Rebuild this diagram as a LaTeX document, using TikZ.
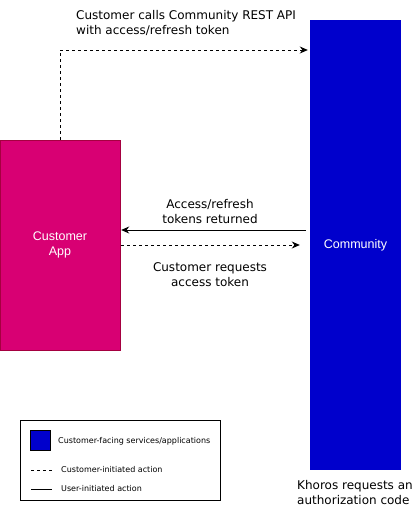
\documentclass[tikz,border=0pt]{standalone}
\usepackage{fontspec}
\setmainfont{DejaVu Sans}
\newfontfamily\boxfont{Liberation Sans}
\usetikzlibrary{arrows.meta}
\definecolor{commblue}{HTML}{0000CC}
\definecolor{appmagenta}{HTML}{D80073}
\definecolor{appborder}{HTML}{A50040}
\tikzset{
  service/.style={inner sep=0pt, text=white, align=center,
    font=\boxfont\fontsize{12.5}{15}\selectfont},
  flowlabel/.style={inner sep=0pt, align=center, font=\fontsize{12}{15}\selectfont},
  keylabel/.style={inner sep=0pt, anchor=west, font=\fontsize{8}{9}\selectfont},
  userline/.style={line width=0.9pt, -{Stealth[length=8pt,width=7pt]}},
  custline/.style={userline, dash pattern=on 3pt off 3pt},
}
\begin{document}
\begin{tikzpicture}[x=1pt,y=-1pt]
      \useasboundingbox (0,0) rectangle (416,531);
      % services
      \node[service, draw=appborder, fill=appmagenta, minimum width=120pt, minimum height=210pt] (app) at (60,245) {Customer\\App};
      \node[service, fill=commblue, minimum width=91pt, minimum height=450pt] (comm) at (355.5,245) {Community};
      % flows
      \coordinate (bend) at (60,50);
      \draw[custline] (app.north) -- (bend) -- ([xshift=-2pt]comm.west |- bend);
      \draw[userline] ([xshift=-4pt,yshift=15pt]comm.west) -- ([xshift=1pt,yshift=15pt]app.east);
      \draw[custline] ([xshift=1pt]app.east) -- ([xshift=-10pt]comm.west);
      \node[flowlabel, anchor=north west, align=left] (apicall) at (76,10) {Customer calls Community REST API\\with access/refresh token};
      \node[flowlabel] (returned) at (210,212) {Access/refresh\\tokens returned};
      \node[flowlabel] (request) at (210,275) {Customer requests\\access token};
      \node[flowlabel, anchor=north west, align=left] (authcode) at (297,480) {Khoros requests an\\authorization code};
      % legend
      \node[draw, line width=0.7pt, minimum width=200pt, minimum height=80pt, inner sep=0pt] (legend) at (120,460) {};
      \node[draw, line width=0.7pt, fill=commblue, minimum size=20pt, inner sep=0pt] (key) at (40,440) {};
      \node[keylabel] (keytext) at (58,441) {Customer-facing services/applications};
      \draw[line width=0.6pt, dash pattern=on 3pt off 3pt] (31,470) -- (52,470);
      \node[keylabel] (custtext) at (61,470) {Customer-initiated action};
      \draw[line width=0.6pt] (31,489) -- (52,489);
      \node[keylabel] (usertext) at (61,489) {User-initiated action};
\end{tikzpicture}
\end{document}
